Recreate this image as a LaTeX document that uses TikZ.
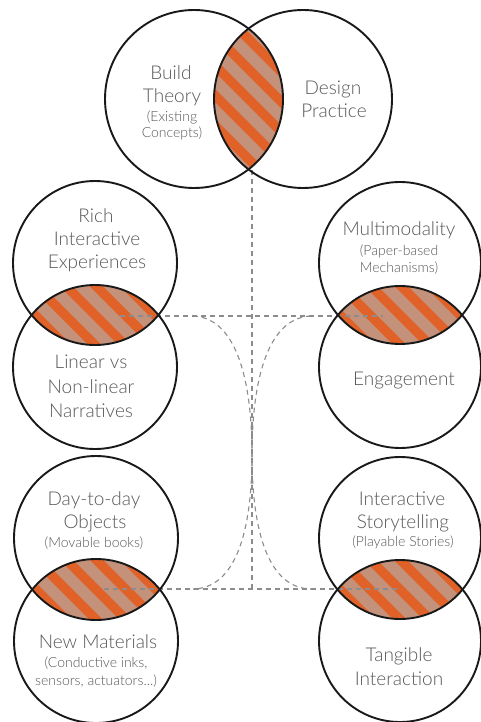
\documentclass[tikz,border=0pt]{standalone}
\usepackage{fontspec}
\setmainfont{Lato Light}
\usetikzlibrary{calc}
\definecolor{stripeor}{RGB}{224,98,40}
\definecolor{stripetan}{RGB}{196,145,122}
\definecolor{txtgray}{RGB}{88,88,88}
\definecolor{dashgray}{RGB}{140,140,140}
\tikzset{
  ring/.style={draw=black!90, line width=1.9pt},
  guide/.style={draw=dashgray, line width=1.1pt, dash pattern=on 5pt off 4pt},
  bigtxt/.style={text=txtgray, font=\fontsize{19}{23}\selectfont, anchor=base, inner sep=0pt},
  smalltxt/.style={text=txtgray, font=\fontsize{14}{17}\selectfont, anchor=base, inner sep=0pt},
}
% #1,#2 centre 1; #3,#4 centre 2; #5 radius (pt); #6,#7 lens middle
\newcommand\stripedlens[7]{%
  \begin{scope}
    \clip (#1,#2) circle (#5pt);
    \clip (#3,#4) circle (#5pt);
    \fill[stripetan] (#1,#2) circle (#5pt);
    \foreach \k in {-10,...,10}
      \draw[stripeor, line width=9.5pt] (#6+\k*30-160,#7-160) -- ++(320,320);
  \end{scope}}
\begin{document}
\begin{tikzpicture}[x=1pt,y=-1pt]
\useasboundingbox (0,0) rectangle (480,722);
\fill[white] (0,0) rectangle (480,722);

% striped intersections
\stripedlens{194}{99}{303}{99}{89}{248.5}{99}
\stripedlens{95}{263}{95}{367}{82}{95}{315}
\stripedlens{400}{263}{400}{367}{81}{400}{315}
\stripedlens{96}{538}{96}{641}{82}{96}{589.5}
\stripedlens{400}{538}{400}{641}{81}{400}{589.5}

% guide coordinates
\coordinate (vtop) at (252,170);
\coordinate (vbot) at (252,589);
\coordinate (hl1) at (120,316);
\coordinate (hr1) at (383,316);
\coordinate (hl2) at (104,589);
\coordinate (hr2) at (397,589);
\coordinate (cl1) at (193,316);
\coordinate (cl2) at (193,589);
\coordinate (cr1) at (311,316);
\coordinate (cr2) at (311,589);
\coordinate (waist) at (252,455);

% dashed guides
\draw[guide] (vtop) -- (vbot);
\draw[guide] (hl1) -- (hr1);
\draw[guide] (hl2) -- (hr2);
\draw[guide] (cl1) .. controls (240,318) and (252,390) .. (waist)
                   .. controls (252,520) and (240,588) .. (cl2);
\draw[guide] (cr1) .. controls (264,318) and (252,390) .. (waist)
                   .. controls (252,520) and (264,588) .. (cr2);

% circles
\draw[ring] (194,99) circle (89pt);
\draw[ring] (303,99) circle (89pt);
\draw[ring] (95,263) circle (82pt);
\draw[ring] (95,367) circle (82pt);
\draw[ring] (400,263) circle (81pt);
\draw[ring] (400,367) circle (81pt);
\draw[ring] (96,538) circle (82pt);
\draw[ring] (96,641) circle (82pt);
\draw[ring] (400,538) circle (81pt);
\draw[ring] (400,641) circle (81pt);

% texts
\node[bigtxt] (t1) at (171,80) {Build};
\node[bigtxt] (t2) at (172,103) {Theory};
\node[smalltxt] (t3) at (172,122) {(Existing};
\node[smalltxt] (t4) at (172,138) {Concepts)};
\node[bigtxt] (t5) at (333,95) {Design};
\node[bigtxt] (t6) at (334,118) {Practice};

\node[bigtxt] (t7) at (96,222) {Rich};
\node[bigtxt] (t8) at (97,245) {Interactive};
\node[bigtxt] (t9) at (97,268) {Experiences};
\node[bigtxt] (t10) at (91,368) {Linear vs};
\node[bigtxt] (t11) at (91,393) {Non-linear};
\node[bigtxt] (t12) at (91,417) {Narratives};

\node[bigtxt] (t13) at (399,235) {Multimodality};
\node[smalltxt] (t14) at (399,255) {(Paper-based};
\node[smalltxt] (t15) at (399,272) {Mechanisms)};
\node[bigtxt] (t16) at (404,385) {Engagement};

\node[bigtxt] (t17) at (94,505) {Day-to-day};
\node[bigtxt] (t18) at (95,528) {Objects};
\node[smalltxt] (t19) at (94,547) {(Movable books)};
\node[bigtxt] (t20) at (98,648) {New Materials};
\node[smalltxt] (t21) at (96,667) {(Conductive inks,};
\node[smalltxt] (t22) at (96,685) {sensors, actuators...)};

\node[bigtxt] (t23) at (402,505) {Interactive};
\node[bigtxt] (t24) at (403,528) {Storytelling};
\node[smalltxt] (t25) at (403,546) {(Playable Stories)};
\node[bigtxt] (t26) at (399,661) {Tangible};
\node[bigtxt] (t27) at (399,685) {Interaction};
\end{tikzpicture}
\end{document}
